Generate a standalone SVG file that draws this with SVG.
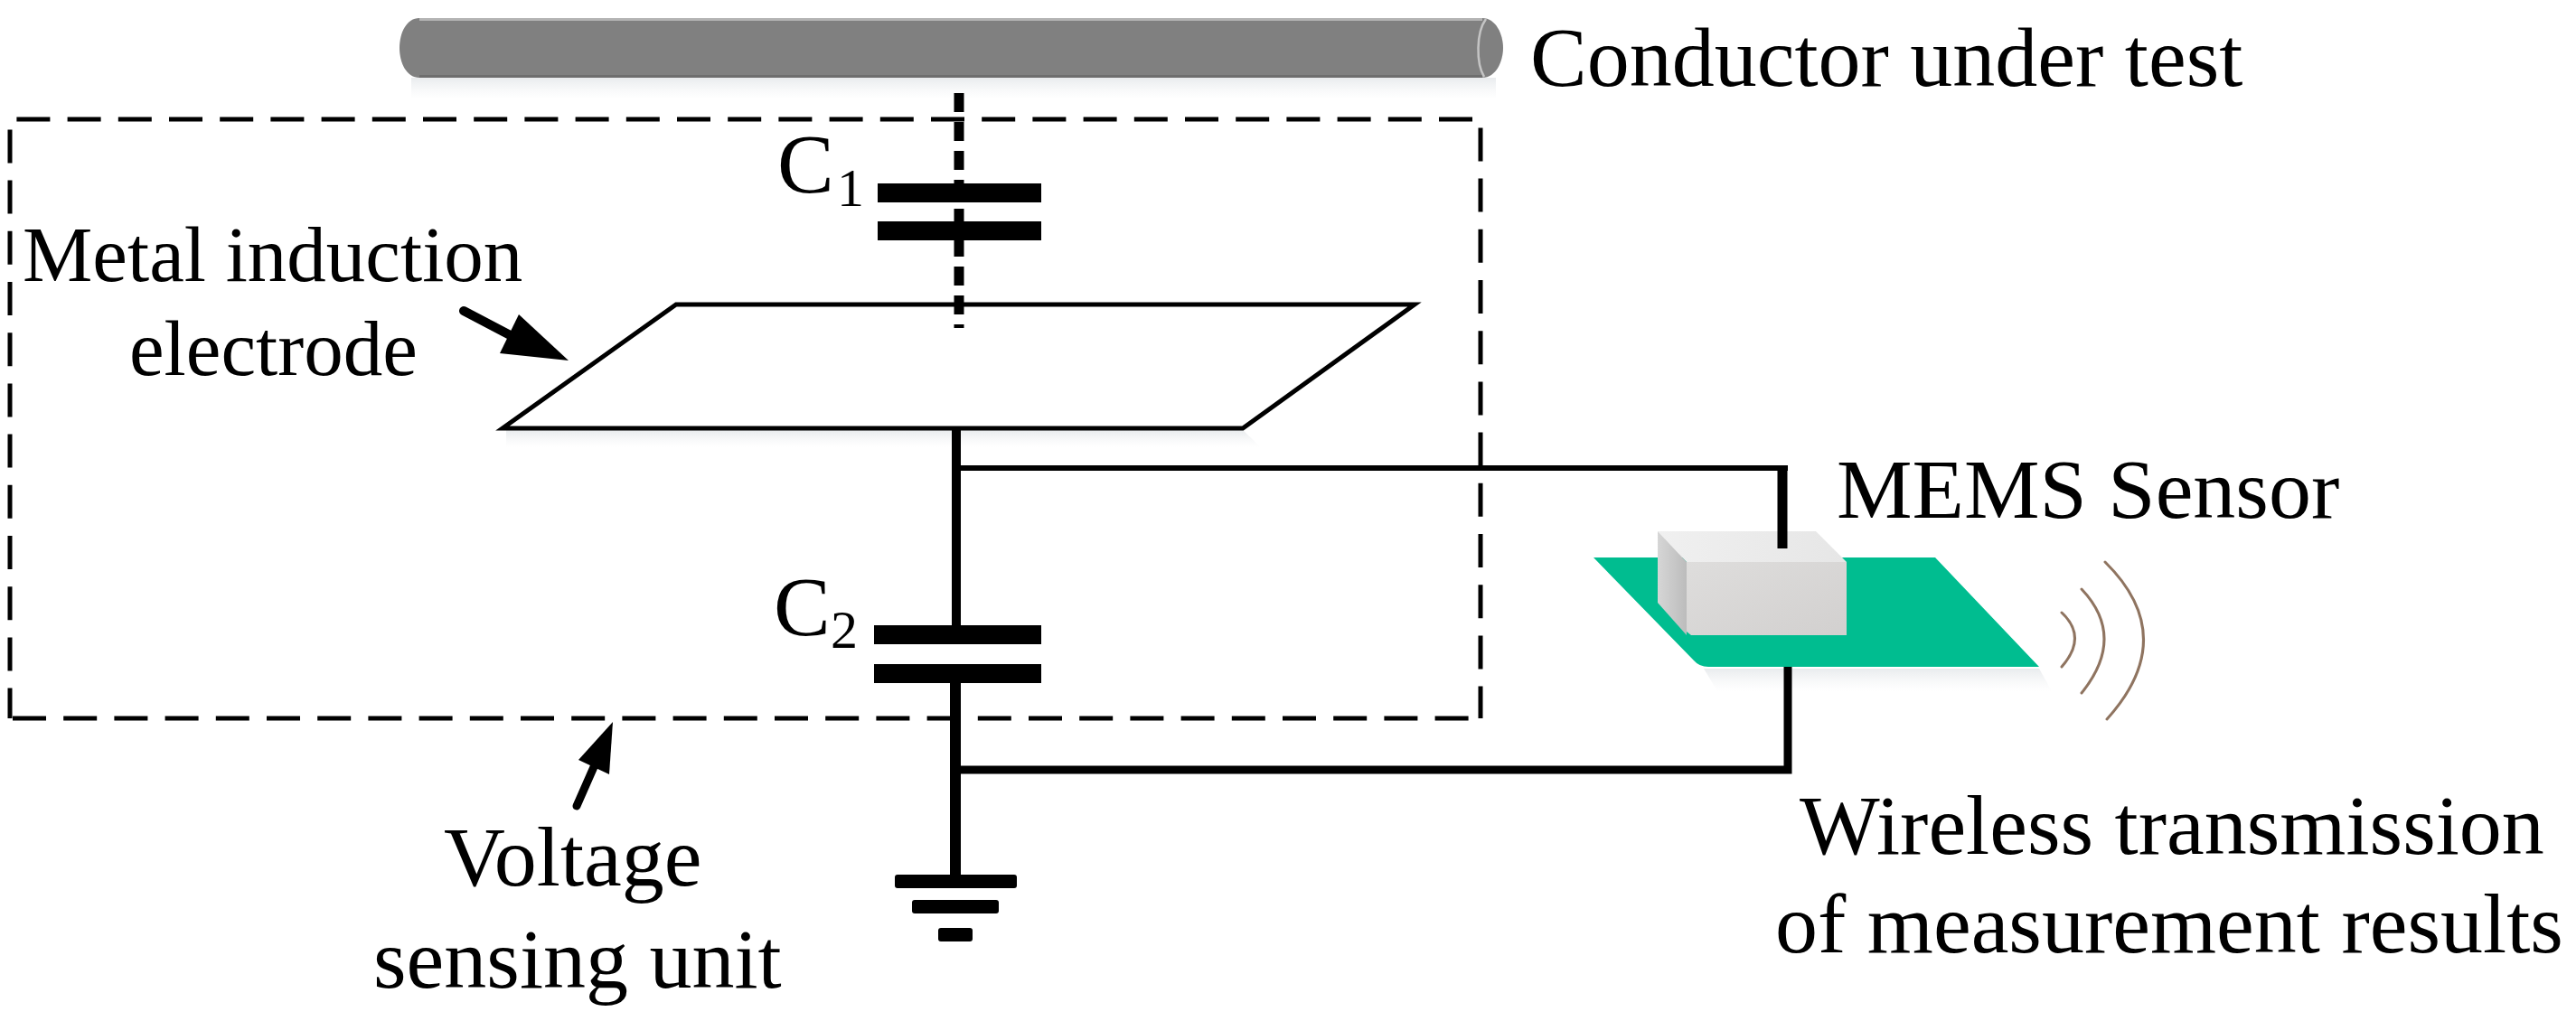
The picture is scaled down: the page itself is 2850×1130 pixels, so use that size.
<svg xmlns="http://www.w3.org/2000/svg" width="2850" height="1130" viewBox="0 0 2850 1130">
<style>
text{font-family:"Liberation Serif","Times New Roman",serif;fill:#000}
.t{font-size:94px}.s{font-size:60px}.m{font-size:87px}
.dash{stroke:#000;stroke-width:5;fill:none;stroke-dasharray:37 19.2}
.plate{fill:#000}
.wire{stroke:#000;fill:none}
.arc{stroke:#8f7460;stroke-width:3;fill:none;stroke-linecap:round}
</style>
<defs>
<linearGradient id="shade" x1="0" y1="0" x2="0" y2="1"><stop offset="0" stop-color="#dfe3e6" stop-opacity=".7"/><stop offset="1" stop-color="#eef0f2" stop-opacity="0"/></linearGradient>
<linearGradient id="top" x1="0" y1="0" x2="1" y2="0"><stop offset="0" stop-color="#f0f0f0"/><stop offset="1" stop-color="#e6e6e6"/></linearGradient>
<linearGradient id="front" x1="0" y1="0" x2="1" y2="1"><stop offset="0" stop-color="#dedddc"/><stop offset="1" stop-color="#d2d0cf"/></linearGradient>
<linearGradient id="side" x1="0" y1="0" x2="1" y2="0"><stop offset="0" stop-color="#d6d6d6"/><stop offset="1" stop-color="#bcbcbc"/></linearGradient>
</defs>
<rect width="2850" height="1130" fill="#fff"/>

<g id="conductor">
<rect x="455" y="86" width="1200" height="24" fill="url(#shade)"/>
<path d="M464 20H1640C1655 20 1663 38 1663 53S1655 86 1640 86H464C450 86 442 70 442 53S450 20 464 20Z" fill="#808080"/>
<path d="M464 21.500H1640" stroke="#b4b4b4" stroke-width="3" fill="none"/>
<path d="M464 84.500H1640" stroke="#6e6e6e" stroke-width="3" fill="none"/>
<path d="M1644 21C1633 36 1633 70 1642 85" stroke="#c4c4c4" stroke-width="2.500" fill="none"/>
<text class="t" x="1693" y="95">Conductor under test</text>
</g>

<g id="sensing-unit">
<path class="dash" d="M18.400 132H1638"/>
<path class="dash" d="M11 143.400V795"/>
<path class="dash" d="M11 795H1638" style="stroke-dashoffset:-3"/>
<path class="dash" d="M1638 141.400V795"/>
<path d="M638 892L660 842" stroke="#000" stroke-width="9" fill="none" stroke-linecap="round"/>
<path d="M678 799L640 841L674 857Z" fill="#000"/>
<text class="t" x="491" y="980">Voltage</text>
<text class="t" x="413" y="1093">sensing unit</text>
</g>

<g id="electrode">
<path d="M560 476H1375L1395 495H560Z" fill="url(#shade)"/>
<path d="M748 337H1565L1375 474H556Z" fill="#fff" stroke="#000" stroke-width="5" stroke-linejoin="miter"/>
<path d="M513 344L572 375" stroke="#000" stroke-width="10" fill="none" stroke-linecap="round"/>
<path d="M629 399L574 348L553 391Z" fill="#000"/>
<text class="m" x="25" y="311">Metal induction</text>
<text class="m" x="143" y="415">electrode</text>
</g>

<g id="capacitor-c1">
<rect class="plate" x="971" y="203" width="181" height="21"/>
<rect class="plate" x="971" y="245" width="181" height="21"/>
<text class="t" x="860" y="213">C</text><text class="s" x="926" y="228">1</text>
</g>

<g id="capacitor-c2">
<rect class="plate" x="967" y="692" width="185" height="21"/>
<rect class="plate" x="967" y="735" width="185" height="21"/>
<text class="t" x="856" y="703">C</text><text class="s" x="919" y="717">2</text>
</g>

<g id="ground">
<rect x="990" y="968" width="135" height="15" rx="3"/>
<rect x="1009" y="996" width="96" height="15" rx="3"/>
<rect x="1038" y="1027" width="38" height="15" rx="3"/>
</g>

<g id="mems-sensor">
<path d="M1885 740H2256L2270 765H1900Z" fill="url(#shade)"/>
<path d="M1763 617H2141L2256 738H1890Q1880 738 1874 731Z" fill="#00bd90"/>
<path d="M1834 588H2009L2038 617L2043 622H1866Z" fill="url(#top)"/>
<path d="M1834 588L1866 622V703L1834 667Z" fill="url(#side)"/>
<path d="M1866 622H2043V703H1871L1866 699Z" fill="url(#front)"/>
<text class="t" x="2032" y="573">MEMS Sensor</text>
</g>

<g id="wireless">
<path class="arc" d="M2281 678Q2310 705 2281 738"/>
<path class="arc" d="M2303 652Q2353 705 2303 767"/>
<path class="arc" d="M2329 622Q2413 705 2331 796"/>
<text class="t" x="1991" y="945">Wireless transmission</text>
<text class="t" x="1964" y="1054">of measurement results</text>
</g>

<g id="connectors">
<path class="wire" stroke-width="11" stroke-dasharray="21 11" d="M1061 103V363"/>
<path class="wire" stroke-width="10" d="M1058 474V692"/>
<path class="wire" stroke-width="12" d="M1057 755V968"/>
<path class="wire" stroke-width="6" d="M1058 518H1978"/>
<path class="wire" stroke-width="11" d="M1972 515V607"/>
<path class="wire" stroke-width="9" d="M1057 852H1978V738"/>
</g>
</svg>
